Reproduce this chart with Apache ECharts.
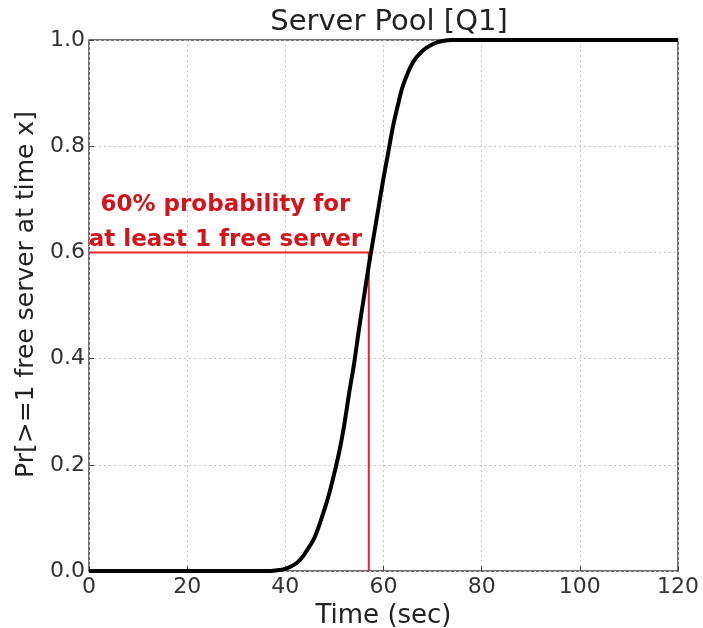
<!DOCTYPE html>
<html>
<head>
<meta charset="utf-8">
<script src="https://cdn.jsdelivr.net/npm/echarts@6/dist/echarts.min.js"></script>
<style>
  html, body { margin: 0; padding: 0; background: #fff; }
  #chart { width: 703px; height: 628px; }
</style>
</head>
<body>
<div id="chart"></div>
<script>
  // curve: time (sec) and probability
  const timeSec = [0, 10, 20, 30, 36, 38, 40, 42, 43, 44, 46, 48, 49, 50, 51, 52, 53, 54, 55, 56, 57, 58, 59, 60, 61, 62, 63, 64, 66, 68, 70, 72, 74, 80, 100, 120]
  const probFree = [0, 0, 0, 0, 0, 0.001, 0.004, 0.013, 0.021, 0.033, 0.064, 0.117, 0.148, 0.185, 0.225, 0.275, 0.335, 0.39, 0.455, 0.515, 0.575, 0.63, 0.685, 0.74, 0.79, 0.84, 0.88, 0.915, 0.958, 0.98, 0.992, 0.998, 1, 1, 1, 1]

  // 60% marker
  const markX = [0, 57, 57]
  const markY = [0.6, 0.6, 0]
  const noteText = ['60% probability for', 'at least 1 free server']
  const notePos = [27.8, 0.657]

  const xTicks = [0, 20, 40, 60, 80, 100, 120]
  const yTicks = [0.0, 0.2, 0.4, 0.6, 0.8, 1.0]

  const font = 'DejaVu Sans'
  const chart = echarts.init(document.getElementById('chart'))

  chart.setOption({
      animation: false,
      title: {
          text: 'Server Pool [Q1]',
          left: 384,
          textAlign: 'center',
          top: 3,
          textStyle: { fontFamily: font, fontSize: 29, fontWeight: 'normal', color: '#222' }
      },
      grid: {
          left: 89,
          right: 25,
          top: 40,
          bottom: 57,
          outerBoundsMode: 'none',
          containLabel: false,
          show: true,
          borderColor: '#444',
          borderWidth: 1.5
      },
      xAxis: {
          type: 'value',
          min: xTicks[0],
          max: xTicks[xTicks.length - 1],
          interval: 20,
          name: 'Time (sec)',
          nameLocation: 'middle',
          nameGap: 30,
          nameTextStyle: { fontFamily: font, fontSize: 26, color: '#222' },
          axisLine: { show: false },
          axisTick: { inside: true, length: 5, lineStyle: { color: '#444' } },
          axisLabel: { fontFamily: font, fontSize: 22, color: '#333', margin: 5 },
          splitLine: { show: true, lineStyle: { color: '#c8c8c8', type: [2, 3], width: 1 } }
      },
      yAxis: {
          type: 'value',
          min: yTicks[0],
          max: yTicks[yTicks.length - 1],
          interval: 0.2,
          name: 'Pr[>=1 free server at time x]',
          nameLocation: 'middle',
          nameGap: 42,
          nameTextStyle: { fontFamily: font, fontSize: 25, color: '#222', padding: [0, 0, 0, 22] },
          axisLine: { show: false },
          axisTick: { inside: true, length: 5, lineStyle: { color: '#444' } },
          axisLabel: {
              fontFamily: font,
              fontSize: 22,
              color: '#333',
              margin: 4,
              formatter: v => v.toFixed(1)
          },
          splitLine: { show: true, lineStyle: { color: '#c8c8c8', type: [2, 3], width: 1 } }
      },
      series: [{
          type: 'line',
          data: timeSec.map((t, i) => [t, probFree[i]]),
          showSymbol: false,
          smooth: 0.35,
          lineStyle: { color: '#000', width: 4 },
          z: 3
      }, {
          type: 'line',
          data: markX.map((t, i) => [t, markY[i]]),
          showSymbol: false,
          lineStyle: { color: '#e3262b', width: 2 },
          z: 2,
          markPoint: {
              symbol: 'circle',
              symbolSize: 0,
              data: [{ coord: notePos }],
              label: {
                  show: true,
                  position: 'inside',
                  formatter: noteText.join('\n'),
                  fontFamily: font,
                  fontSize: 23,
                  fontWeight: 'bold',
                  color: '#d4141c',
                  lineHeight: 35,
                  align: 'center'
              }
          }
      }]
  })
</script>
</body>
</html>
